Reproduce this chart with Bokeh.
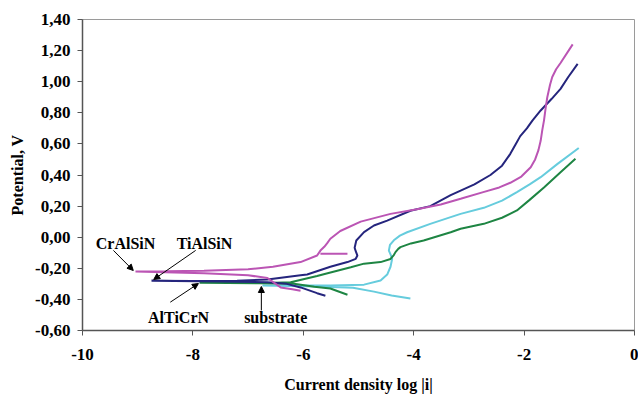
from bokeh.plotting import figure
from bokeh.models import FixedTicker, Label, Arrow, NormalHead
from bokeh.embed import file_html
from bokeh.resources import INLINE

# Polarization curves: log|i| (x) against potential in V (y).
# Each series runs from the end of its cathodic tail back to Ecorr,
# then along the anodic branch.
cralsin_x = [-6.05, -6.20, -6.41, -6.65, -7.00, -7.80, -9.04,
             -8.50, -7.80, -7.00, -6.55, -6.05, -5.75, -5.69, -5.62, -5.57,
             -5.51, -5.33, -4.96, -4.42, -3.94, -3.51, -3.15, -2.74, -2.45,
             -2.25, -2.05, -1.88, -1.80, -1.74, -1.70, -1.67, -1.64, -1.61,
             -1.58, -1.53, -1.49, -1.42, -1.34, -1.12]
cralsin_y = [-0.345, -0.335, -0.323, -0.262, -0.245, -0.232, -0.220,
             -0.219, -0.216, -0.206, -0.190, -0.160, -0.118, -0.086, -0.062, -0.040,
             -0.010, 0.040, 0.100, 0.150, 0.180, 0.210, 0.247, 0.290, 0.320,
             0.350, 0.390, 0.450, 0.500, 0.560, 0.620, 0.690, 0.750, 0.830,
             0.900, 0.980, 1.030, 1.080, 1.120, 1.240]

# small side branch on the CrAlSiN curve near -5.5
cralsin_spur_x = [-5.69, -5.20]
cralsin_spur_y = [-0.107, -0.107]

tialsin_x = [-5.60, -5.75, -6.05, -6.30, -6.65, -7.50, -8.75,
             -8.00, -7.20, -6.65, -6.05, -5.93, -5.51, -5.20, -5.05,
             -5.02, -5.05, -5.07, -5.04, -4.90, -4.72, -4.48, -4.06, -3.70,
             -3.33, -3.15, -2.90, -2.61, -2.40, -2.25, -2.15, -2.07, -1.95,
             -1.85, -1.70, -1.50, -1.34, -1.20, -1.03]
tialsin_y = [-0.377, -0.360, -0.323, -0.300, -0.290, -0.285, -0.280,
             -0.282, -0.280, -0.272, -0.245, -0.240, -0.190, -0.160, -0.139,
             -0.118, -0.090, -0.068, -0.021, 0.033, 0.075, 0.107, 0.170, 0.200,
             0.270, 0.300, 0.340, 0.400, 0.460, 0.536, 0.600, 0.650, 0.700,
             0.750, 0.815, 0.890, 0.954, 1.030, 1.115]

altiern_x = [-5.20, -5.51, -5.80, -6.17, -6.80, -7.88,
             -7.20, -6.78, -6.23, -5.75, -5.63, -5.14, -4.90, -4.60,
             -4.42, -4.36, -4.33, -4.28, -4.24, -4.05, -3.82, -3.33, -3.15,
             -2.73, -2.40, -2.13, -1.90, -1.64, -1.34, -1.07]
altiern_y = [-0.370, -0.330, -0.318, -0.300, -0.296, -0.293,
             -0.295, -0.296, -0.290, -0.250, -0.238, -0.193, -0.170, -0.160,
             -0.140, -0.115, -0.096, -0.075, -0.064, -0.040, -0.021, 0.032, 0.054,
             0.086, 0.125, 0.172, 0.240, 0.320, 0.418, 0.504]

substrate_x = [-4.06, -4.40, -4.72, -5.10, -5.75, -6.74,
               -6.00, -5.51, -4.90, -4.60, -4.48, -4.42, -4.39, -4.42, -4.45,
               -4.43, -4.36, -4.25, -4.12, -3.70, -3.33, -3.15, -2.73, -2.40,
               -2.13, -1.90, -1.70, -1.40, -1.01]
substrate_y = [-0.394, -0.375, -0.350, -0.325, -0.317, -0.310,
               -0.310, -0.310, -0.305, -0.278, -0.240, -0.190, -0.139, -0.110, -0.086,
               -0.050, -0.020, 0.010, 0.032, 0.086, 0.129, 0.150, 0.189, 0.235,
               0.290, 0.340, 0.386, 0.470, 0.574]

y_ticks = [-0.6, -0.4, -0.2, 0.0, 0.2, 0.4, 0.6, 0.8, 1.0, 1.2, 1.4]
y_tick_labels = ["-0,60", "-0,40", "-0,20", "0,00", "0,20", "0,40",
                 "0,60", "0,80", "1,00", "1,20", "1,40"]
x_ticks = [-10, -8, -6, -4, -2, 0]
x_tick_labels = ["-10", "-8", "-6", "-4", "-2", "0"]

FONT = "Liberation Serif"

p = figure(width=638, height=396, output_backend="svg", toolbar_location=None,
           x_range=(-10, 0), y_range=(-0.6, 1.4),
           min_border_left=82, min_border_right=4,
           min_border_top=19, min_border_bottom=66)
p.xgrid.visible = False
p.ygrid.visible = False
p.outline_line_color = "#9a9a9a"
p.outline_line_width = 1
p.background_fill_color = "white"
p.border_fill_color = "white"

for ax in (p.xaxis[0], p.yaxis[0]):
    ax.axis_line_color = "#555555"
    ax.axis_line_width = 1.5
    ax.major_tick_line_color = "#555555"
    ax.major_tick_in = 0
    ax.major_tick_out = 5
    ax.minor_tick_line_color = None
    ax.major_label_text_font = FONT
    ax.major_label_text_font_style = "bold"
    ax.major_label_text_font_size = "17px"
    ax.major_label_text_color = "black"
    ax.axis_label_text_font = FONT
    ax.axis_label_text_font_style = "bold"
    ax.axis_label_text_font_size = "16px"
    ax.axis_label_text_color = "black"

p.yaxis.ticker = FixedTicker(ticks=y_ticks)
p.yaxis.major_label_overrides = {t: s for t, s in zip(y_ticks, y_tick_labels)}
p.xaxis.ticker = FixedTicker(ticks=x_ticks)
p.xaxis.major_label_overrides = {t: s for t, s in zip(x_ticks, x_tick_labels)}
p.yaxis.axis_label = "Potential, V"
p.xaxis.axis_label = "Current density log |i|"
p.yaxis.major_label_standoff = 7
p.xaxis.major_label_standoff = 13
p.xaxis.axis_label_standoff = 13
p.yaxis.axis_label_standoff = 6

MAGENTA = "#BB55B4"
NAVY = "#25257D"
GREEN = "#1E8543"
CYAN = "#66CCDD"

p.line(substrate_x, substrate_y, line_color=CYAN, line_width=2)
p.line(altiern_x, altiern_y, line_color=GREEN, line_width=2)
p.line(tialsin_x, tialsin_y, line_color=NAVY, line_width=2)
p.line(cralsin_x, cralsin_y, line_color=MAGENTA, line_width=2)
p.line(cralsin_spur_x, cralsin_spur_y, line_color=MAGENTA, line_width=2)

# Curve names with pointer arrows
labels = [("CrAlSiN", -9.22, -0.039), ("TiAlSiN", -7.79, -0.039),
          ("AlTiCrN", -8.26, -0.514), ("substrate", -6.50, -0.514)]
for txt, lx, ly in labels:
    p.add_layout(Label(x=lx, y=ly, text=txt, text_font=FONT,
                       text_font_style="bold", text_font_size="16px",
                       text_align="center", text_baseline="middle",
                       text_color="black"))

arrows = [(-9.44, -0.085, -9.08, -0.214),
          (-7.95, -0.085, -8.71, -0.272),
          (-8.41, -0.418, -7.90, -0.298),
          (-6.76, -0.471, -6.76, -0.317)]
for xs, ys, xe, ye in arrows:
    p.add_layout(Arrow(x_start=xs, y_start=ys, x_end=xe, y_end=ye,
                       line_color="black", line_width=1,
                       end=NormalHead(size=6, fill_color="black",
                                      line_color="black")))

open("out.html", "w").write(file_html(p, INLINE))
